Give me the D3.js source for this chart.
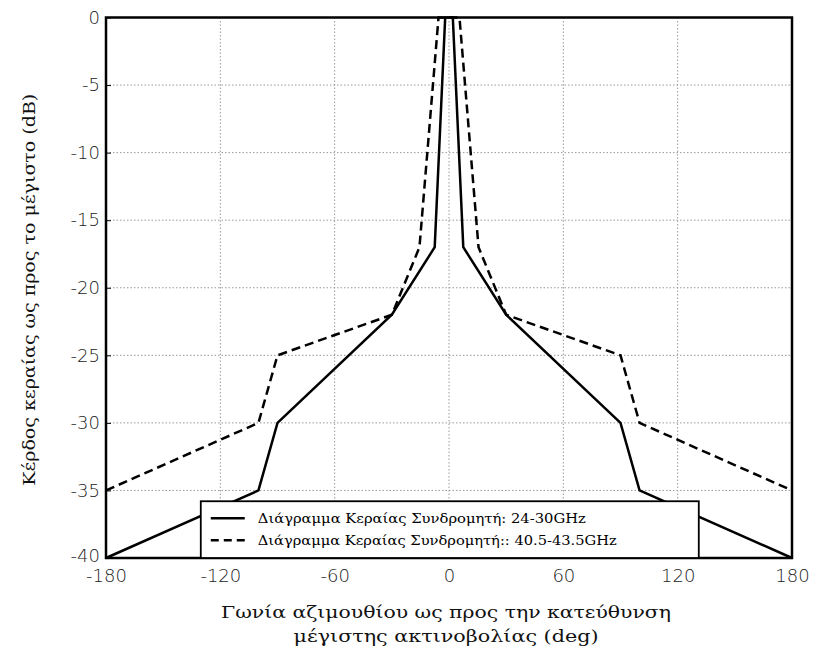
<!DOCTYPE html>
<html>
<head>
<meta charset="utf-8">
<script src="https://cdn.jsdelivr.net/npm/d3@7"></script>
<style>
  html, body { margin: 0; padding: 0; background: #fff; }
  svg { display: block; }
</style>
</head>
<body>
<script>
// Antenna mask: azimuth (deg) vs relative gain (dB)
const angle24 = [-180, -100, -90, -30, -7.5, -2, 2, 7.5, 30, 90, 100, 180];
const gain24  = [-40, -35, -30, -22, -17, 0, 0, -17, -22, -30, -35, -40];
const angle40 = [-180, -100, -90, -30, -15.5, -5.5, 5.5, 15.5, 30, 90, 100, 180];
const gain40  = [-35, -30, -25, -22, -17, 0, 0, -17, -22, -25, -30, -35];

const xTicks = [-180, -120, -60, 0, 60, 120, 180];
const yTicks = [0, -5, -10, -15, -20, -25, -30, -35, -40];

const seriesNames = [
  "Διάγραμμα Κεραίας Συνδρομητή: 24-30GHz",
  "Διάγραμμα Κεραίας Συνδρομητή:: 40.5-43.5GHz"
];
const xTitle = ["Γωνία αζιμουθίου ως προς την κατεύθυνση", "μέγιστης ακτινοβολίας (deg)"];
const yTitle = "Κέρδος κεραίας ως προς το μέγιστο (dB)";

const W = 817, H = 659;
const margin = { left: 106, right: 25, top: 17.5, bottom: 101 };
const iw = W - margin.left - margin.right;
const ih = H - margin.top - margin.bottom;

const svg = d3.select("body").append("svg").attr("width", W).attr("height", H);
const g = svg.append("g").attr("transform", `translate(${margin.left},${margin.top})`);

const x = d3.scaleLinear().domain([-180, 180]).range([0, iw]);
const y = d3.scaleLinear().domain([-40, 0]).range([ih, 0]);

// dotted grid
g.append("g").selectAll("line").data(xTicks.slice(1, -1)).join("line")
  .attr("x1", d => x(d)).attr("x2", d => x(d)).attr("y1", 0).attr("y2", ih)
  .attr("stroke", "#999").attr("stroke-width", 1).attr("stroke-dasharray", "1.5,2");
g.append("g").selectAll("line").data(yTicks.slice(1, -1)).join("line")
  .attr("y1", d => y(d)).attr("y2", d => y(d)).attr("x1", 0).attr("x2", iw)
  .attr("stroke", "#999").attr("stroke-width", 1).attr("stroke-dasharray", "1.5,2");

// axes
const tickFont = "'DejaVu Sans', sans-serif";
const xAxis = g.append("g").attr("transform", `translate(0,${ih})`)
  .call(d3.axisBottom(x).tickValues(xTicks).tickSize(-5).tickPadding(15).tickFormat(d3.format("d")));
const yAxis = g.append("g")
  .call(d3.axisLeft(y).tickValues(yTicks).tickSize(-5).tickPadding(6).tickFormat(d3.format("d")));
[xAxis, yAxis].forEach(a => {
  a.select(".domain").remove();
  a.selectAll(".tick line").attr("stroke", "#000");
  a.selectAll("text").attr("font-family", tickFont).attr("font-size", 18)
    .attr("font-weight", 300).attr("fill", "#222")
    .text(d => d < 0 ? "-" + Math.abs(d) : d);
});
xAxis.selectAll("text").attr("dy", "0.5em");
yAxis.selectAll("text").filter(d => d === -40).attr("dy", "0.2em");

const line = d3.line().x(d => x(d[0])).y(d => y(d[1]));
const pts24 = angle24.map((a, i) => [a, gain24[i]]);
const pts40 = angle40.map((a, i) => [a, gain40[i]]);

g.append("path").datum(pts24).attr("d", line)
  .attr("fill", "none").attr("stroke", "#000").attr("stroke-width", 2.5)
  .attr("stroke-linejoin", "miter");
g.append("path").datum(pts40).attr("d", line)
  .attr("fill", "none").attr("stroke", "#000").attr("stroke-width", 2.5)
  .attr("stroke-dasharray", "9,5");

// frame
g.append("rect").attr("x", 0).attr("y", 0).attr("width", iw).attr("height", ih)
  .attr("fill", "none").attr("stroke", "#000").attr("stroke-width", 2.5);

// legend
const serif = "'DejaVu Serif', serif";
const lg = g.append("g").attr("transform", `translate(${x(-130) - 0.5},${y(-35.8)})`);
const lgW = 498, lgH = y(-40) - y(-35.8);
lg.append("rect").attr("width", lgW).attr("height", lgH)
  .attr("fill", "#fff").attr("stroke", "#000").attr("stroke-width", 1.8);
const legendWidths = [328, 359];
seriesNames.forEach((name, i) => {
  const cy = 17 + i * 22;
  lg.append("line").attr("x1", 10).attr("x2", 44).attr("y1", cy).attr("y2", cy)
    .attr("stroke", "#000").attr("stroke-width", 2.5)
    .attr("stroke-dasharray", i === 1 ? "8,5" : null);
  lg.append("text").attr("x", 57).attr("y", cy).attr("dy", "0.35em")
    .style("font-family", serif).attr("font-size", 13).attr("fill", "#000")
    .attr("textLength", legendWidths[i]).attr("lengthAdjust", "spacingAndGlyphs")
    .text(name);
});

// axis titles
const xTitleWidths = [450, 305];
xTitle.forEach((t, i) => {
  svg.append("text").attr("x", 446).attr("y", 618 + i * 24)
    .attr("text-anchor", "middle").style("font-family", serif).attr("font-size", 16.5)
    .attr("fill", "#111")
    .attr("textLength", xTitleWidths[i]).attr("lengthAdjust", "spacingAndGlyphs")
    .text(t);
});
svg.append("text")
  .attr("transform", `translate(35,${margin.top + ih / 2 + 2}) rotate(-90)`)
  .attr("text-anchor", "middle").style("font-family", serif).attr("font-size", 16.5)
  .attr("fill", "#111")
  .attr("textLength", 392).attr("lengthAdjust", "spacingAndGlyphs")
  .text(yTitle);
</script>
</body>
</html>
